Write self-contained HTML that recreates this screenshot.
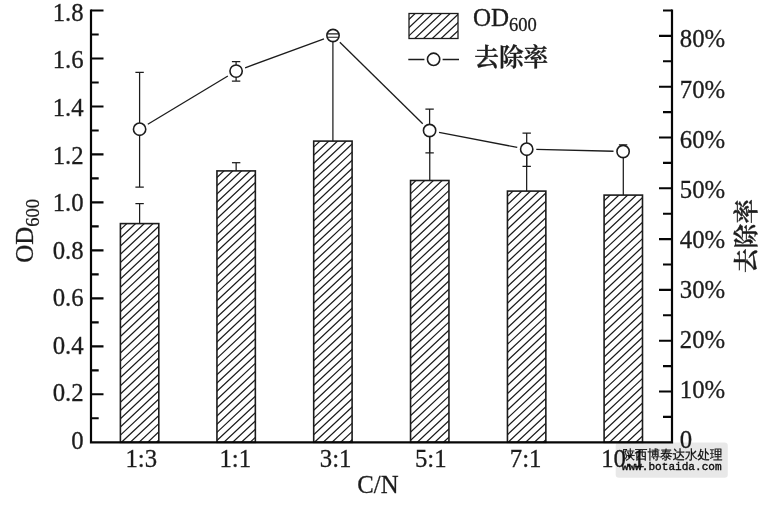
<!DOCTYPE html>
<html lang="zh-CN"><head><meta charset="utf-8"><title>C/N - OD600</title>
<style>
html,body{margin:0;padding:0;background:#fff;}
body{width:771px;height:507px;overflow:hidden;}
svg{display:block;will-change:transform;}
.t{font-family:"Liberation Serif","Noto Serif CJK SC",serif;fill:#1c1c1c;stroke:#1c1c1c;stroke-width:0.3px;}
.c{font-family:"Liberation Serif","Noto Serif CJK SC",serif;fill:#1c1c1c;font-weight:600;stroke:#1c1c1c;stroke-width:0.35px;}
</style></head><body>
<svg width="771" height="507" viewBox="0 0 771 507">
<rect x="0" y="0" width="771" height="507" fill="#ffffff"/>
<g>
<defs>
<clipPath id="cb0"><rect x="120.40" y="223.60" width="38.40" height="218.70"/></clipPath>
<clipPath id="cb1"><rect x="216.95" y="170.90" width="38.40" height="271.40"/></clipPath>
<clipPath id="cb2"><rect x="313.70" y="141.10" width="38.40" height="301.20"/></clipPath>
<clipPath id="cb3"><rect x="410.55" y="180.50" width="38.40" height="261.80"/></clipPath>
<clipPath id="cb4"><rect x="507.45" y="191.10" width="38.40" height="251.20"/></clipPath>
<clipPath id="cb5"><rect x="604.10" y="195.10" width="38.40" height="247.20"/></clipPath>
<clipPath id="clg"><rect x="409" y="13.5" width="49" height="25"/></clipPath>
</defs>
<path d="M118.40 223.28L160.80 183.42M118.40 231.50L160.80 191.64M118.40 239.72L160.80 199.86M118.40 247.94L160.80 208.08M118.40 256.16L160.80 216.30M118.40 264.38L160.80 224.52M118.40 272.60L160.80 232.74M118.40 280.82L160.80 240.96M118.40 289.04L160.80 249.18M118.40 297.26L160.80 257.40M118.40 305.48L160.80 265.62M118.40 313.70L160.80 273.84M118.40 321.92L160.80 282.06M118.40 330.14L160.80 290.28M118.40 338.36L160.80 298.50M118.40 346.58L160.80 306.72M118.40 354.80L160.80 314.94M118.40 363.02L160.80 323.16M118.40 371.24L160.80 331.38M118.40 379.46L160.80 339.60M118.40 387.68L160.80 347.82M118.40 395.90L160.80 356.04M118.40 404.12L160.80 364.26M118.40 412.34L160.80 372.48M118.40 420.56L160.80 380.70M118.40 428.78L160.80 388.92M118.40 437.00L160.80 397.14M118.40 445.22L160.80 405.36M118.40 453.44L160.80 413.58M118.40 461.66L160.80 421.80M118.40 469.88L160.80 430.02M118.40 478.10L160.80 438.24M118.40 486.32L160.80 446.46" stroke="#1c1c1c" stroke-width="1.25" fill="none" clip-path="url(#cb0)"/>
<rect x="120.40" y="223.60" width="38.40" height="218.70" fill="none" stroke="#1c1c1c" stroke-width="1.60"/>
<path d="M214.95 171.19L257.35 131.33M214.95 179.41L257.35 139.55M214.95 187.63L257.35 147.77M214.95 195.85L257.35 155.99M214.95 204.07L257.35 164.21M214.95 212.29L257.35 172.43M214.95 220.51L257.35 180.65M214.95 228.73L257.35 188.87M214.95 236.95L257.35 197.09M214.95 245.17L257.35 205.31M214.95 253.39L257.35 213.53M214.95 261.61L257.35 221.75M214.95 269.83L257.35 229.97M214.95 278.05L257.35 238.19M214.95 286.27L257.35 246.41M214.95 294.49L257.35 254.63M214.95 302.71L257.35 262.85M214.95 310.93L257.35 271.07M214.95 319.15L257.35 279.29M214.95 327.37L257.35 287.51M214.95 335.59L257.35 295.73M214.95 343.81L257.35 303.95M214.95 352.03L257.35 312.17M214.95 360.25L257.35 320.39M214.95 368.47L257.35 328.61M214.95 376.69L257.35 336.83M214.95 384.91L257.35 345.05M214.95 393.13L257.35 353.27M214.95 401.35L257.35 361.49M214.95 409.57L257.35 369.71M214.95 417.79L257.35 377.93M214.95 426.01L257.35 386.15M214.95 434.23L257.35 394.37M214.95 442.45L257.35 402.59M214.95 450.67L257.35 410.81M214.95 458.89L257.35 419.03M214.95 467.11L257.35 427.25M214.95 475.33L257.35 435.47M214.95 483.55L257.35 443.69" stroke="#1c1c1c" stroke-width="1.25" fill="none" clip-path="url(#cb1)"/>
<rect x="216.95" y="170.90" width="38.40" height="271.40" fill="none" stroke="#1c1c1c" stroke-width="1.60"/>
<path d="M311.70 140.75L354.10 100.90M311.70 148.97L354.10 109.12M311.70 157.19L354.10 117.34M311.70 165.41L354.10 125.56M311.70 173.63L354.10 133.78M311.70 181.85L354.10 142.00M311.70 190.07L354.10 150.22M311.70 198.29L354.10 158.44M311.70 206.51L354.10 166.66M311.70 214.73L354.10 174.88M311.70 222.95L354.10 183.10M311.70 231.17L354.10 191.32M311.70 239.39L354.10 199.54M311.70 247.61L354.10 207.76M311.70 255.83L354.10 215.98M311.70 264.05L354.10 224.20M311.70 272.27L354.10 232.42M311.70 280.49L354.10 240.64M311.70 288.71L354.10 248.86M311.70 296.93L354.10 257.08M311.70 305.15L354.10 265.30M311.70 313.37L354.10 273.52M311.70 321.59L354.10 281.74M311.70 329.81L354.10 289.96M311.70 338.03L354.10 298.18M311.70 346.25L354.10 306.40M311.70 354.47L354.10 314.62M311.70 362.69L354.10 322.84M311.70 370.91L354.10 331.06M311.70 379.13L354.10 339.28M311.70 387.35L354.10 347.50M311.70 395.57L354.10 355.72M311.70 403.79L354.10 363.94M311.70 412.01L354.10 372.16M311.70 420.23L354.10 380.38M311.70 428.45L354.10 388.60M311.70 436.67L354.10 396.82M311.70 444.89L354.10 405.04M311.70 453.11L354.10 413.26M311.70 461.33L354.10 421.48M311.70 469.55L354.10 429.70M311.70 477.77L354.10 437.92M311.70 485.99L354.10 446.14" stroke="#1c1c1c" stroke-width="1.25" fill="none" clip-path="url(#cb2)"/>
<rect x="313.70" y="141.10" width="38.40" height="301.20" fill="none" stroke="#1c1c1c" stroke-width="1.60"/>
<path d="M408.55 179.19L450.95 139.33M408.55 187.41L450.95 147.55M408.55 195.63L450.95 155.77M408.55 203.85L450.95 163.99M408.55 212.07L450.95 172.21M408.55 220.29L450.95 180.43M408.55 228.51L450.95 188.65M408.55 236.73L450.95 196.87M408.55 244.95L450.95 205.09M408.55 253.17L450.95 213.31M408.55 261.39L450.95 221.53M408.55 269.61L450.95 229.75M408.55 277.83L450.95 237.97M408.55 286.05L450.95 246.19M408.55 294.27L450.95 254.41M408.55 302.49L450.95 262.63M408.55 310.71L450.95 270.85M408.55 318.93L450.95 279.07M408.55 327.15L450.95 287.29M408.55 335.37L450.95 295.51M408.55 343.59L450.95 303.73M408.55 351.81L450.95 311.95M408.55 360.03L450.95 320.17M408.55 368.25L450.95 328.39M408.55 376.47L450.95 336.61M408.55 384.69L450.95 344.83M408.55 392.91L450.95 353.05M408.55 401.13L450.95 361.27M408.55 409.35L450.95 369.49M408.55 417.57L450.95 377.71M408.55 425.79L450.95 385.93M408.55 434.01L450.95 394.15M408.55 442.23L450.95 402.37M408.55 450.45L450.95 410.59M408.55 458.67L450.95 418.81M408.55 466.89L450.95 427.03M408.55 475.11L450.95 435.25M408.55 483.33L450.95 443.47" stroke="#1c1c1c" stroke-width="1.25" fill="none" clip-path="url(#cb3)"/>
<rect x="410.55" y="180.50" width="38.40" height="261.80" fill="none" stroke="#1c1c1c" stroke-width="1.60"/>
<path d="M505.45 189.98L547.85 150.12M505.45 198.20L547.85 158.34M505.45 206.42L547.85 166.56M505.45 214.64L547.85 174.78M505.45 222.86L547.85 183.00M505.45 231.08L547.85 191.22M505.45 239.30L547.85 199.44M505.45 247.52L547.85 207.66M505.45 255.74L547.85 215.88M505.45 263.96L547.85 224.10M505.45 272.18L547.85 232.32M505.45 280.40L547.85 240.54M505.45 288.62L547.85 248.76M505.45 296.84L547.85 256.98M505.45 305.06L547.85 265.20M505.45 313.28L547.85 273.42M505.45 321.50L547.85 281.64M505.45 329.72L547.85 289.86M505.45 337.94L547.85 298.08M505.45 346.16L547.85 306.30M505.45 354.38L547.85 314.52M505.45 362.60L547.85 322.74M505.45 370.82L547.85 330.96M505.45 379.04L547.85 339.18M505.45 387.26L547.85 347.40M505.45 395.48L547.85 355.62M505.45 403.70L547.85 363.84M505.45 411.92L547.85 372.06M505.45 420.14L547.85 380.28M505.45 428.36L547.85 388.50M505.45 436.58L547.85 396.72M505.45 444.80L547.85 404.94M505.45 453.02L547.85 413.16M505.45 461.24L547.85 421.38M505.45 469.46L547.85 429.60M505.45 477.68L547.85 437.82M505.45 485.90L547.85 446.04" stroke="#1c1c1c" stroke-width="1.25" fill="none" clip-path="url(#cb4)"/>
<rect x="507.45" y="191.10" width="38.40" height="251.20" fill="none" stroke="#1c1c1c" stroke-width="1.60"/>
<path d="M602.10 194.49L644.50 154.64M602.10 202.71L644.50 162.86M602.10 210.93L644.50 171.08M602.10 219.15L644.50 179.30M602.10 227.37L644.50 187.52M602.10 235.59L644.50 195.74M602.10 243.81L644.50 203.96M602.10 252.03L644.50 212.18M602.10 260.25L644.50 220.40M602.10 268.47L644.50 228.62M602.10 276.69L644.50 236.84M602.10 284.91L644.50 245.06M602.10 293.13L644.50 253.28M602.10 301.35L644.50 261.50M602.10 309.57L644.50 269.72M602.10 317.79L644.50 277.94M602.10 326.01L644.50 286.16M602.10 334.23L644.50 294.38M602.10 342.45L644.50 302.60M602.10 350.67L644.50 310.82M602.10 358.89L644.50 319.04M602.10 367.11L644.50 327.26M602.10 375.33L644.50 335.48M602.10 383.55L644.50 343.70M602.10 391.77L644.50 351.92M602.10 399.99L644.50 360.14M602.10 408.21L644.50 368.36M602.10 416.43L644.50 376.58M602.10 424.65L644.50 384.80M602.10 432.87L644.50 393.02M602.10 441.09L644.50 401.24M602.10 449.31L644.50 409.46M602.10 457.53L644.50 417.68M602.10 465.75L644.50 425.90M602.10 473.97L644.50 434.12M602.10 482.19L644.50 442.34" stroke="#1c1c1c" stroke-width="1.25" fill="none" clip-path="url(#cb5)"/>
<rect x="604.10" y="195.10" width="38.40" height="247.20" fill="none" stroke="#1c1c1c" stroke-width="1.60"/>
<line x1="139.60" y1="223.60" x2="139.60" y2="203.60" stroke="#1c1c1c" stroke-width="1.25"/>
<line x1="135.40" y1="203.60" x2="143.80" y2="203.60" stroke="#1c1c1c" stroke-width="1.25"/>
<line x1="236.15" y1="170.90" x2="236.15" y2="162.70" stroke="#1c1c1c" stroke-width="1.25"/>
<line x1="231.95" y1="162.70" x2="240.35" y2="162.70" stroke="#1c1c1c" stroke-width="1.25"/>
<line x1="332.90" y1="141.10" x2="332.90" y2="35.50" stroke="#1c1c1c" stroke-width="1.25"/>
<line x1="429.75" y1="180.50" x2="429.75" y2="130.50" stroke="#1c1c1c" stroke-width="1.25"/>
<line x1="526.65" y1="191.10" x2="526.65" y2="149.20" stroke="#1c1c1c" stroke-width="1.25"/>
<line x1="623.30" y1="195.10" x2="623.30" y2="151.50" stroke="#1c1c1c" stroke-width="1.25"/>
<line x1="147.82" y1="124.25" x2="227.88" y2="76.05" stroke="#1c1c1c" stroke-width="1.30"/>
<line x1="245.11" y1="67.79" x2="323.99" y2="38.81" stroke="#1c1c1c" stroke-width="1.30"/>
<line x1="339.84" y1="42.23" x2="422.76" y2="123.77" stroke="#1c1c1c" stroke-width="1.30"/>
<line x1="439.03" y1="132.32" x2="517.27" y2="147.38" stroke="#1c1c1c" stroke-width="1.30"/>
<line x1="536.30" y1="149.43" x2="613.50" y2="151.27" stroke="#1c1c1c" stroke-width="1.30"/>
<path d="M139.60 72.40V187.00M135.40 72.40H143.80M135.40 187.00H143.80" stroke="#1c1c1c" stroke-width="1.25" fill="none"/>
<path d="M236.10 61.50V81.10M231.90 61.50H240.30M231.90 81.10H240.30" stroke="#1c1c1c" stroke-width="1.25" fill="none"/>
<path d="M333.00 33.80V37.20M328.80 33.80H337.20M328.80 37.20H337.20" stroke="#1c1c1c" stroke-width="1.25" fill="none"/>
<path d="M429.60 109.00V152.80M425.40 109.00H433.80M425.40 152.80H433.80" stroke="#1c1c1c" stroke-width="1.25" fill="none"/>
<path d="M526.70 133.00V166.40M522.50 133.00H530.90M522.50 166.40H530.90" stroke="#1c1c1c" stroke-width="1.25" fill="none"/>
<path d="M623.10 144.90V151.50M618.90 144.90H627.30M618.90 151.50H627.30" stroke="#1c1c1c" stroke-width="1.25" fill="none"/>
<circle cx="139.60" cy="129.20" r="6.15" fill="#ffffff" stroke="#1c1c1c" stroke-width="1.60"/>
<circle cx="236.10" cy="71.10" r="6.15" fill="#ffffff" stroke="#1c1c1c" stroke-width="1.60"/>
<circle cx="333.00" cy="35.50" r="6.15" fill="#ffffff" stroke="#1c1c1c" stroke-width="1.60"/>
<circle cx="429.60" cy="130.50" r="6.15" fill="#ffffff" stroke="#1c1c1c" stroke-width="1.60"/>
<circle cx="526.70" cy="149.20" r="6.15" fill="#ffffff" stroke="#1c1c1c" stroke-width="1.60"/>
<circle cx="623.10" cy="151.50" r="6.15" fill="#ffffff" stroke="#1c1c1c" stroke-width="1.60"/>
<path d="M327.60 33.80H338.40M327.60 37.20H338.40" stroke="#1c1c1c" stroke-width="1.15" fill="none"/>
<path d="M91.00 9.40V442.30H672.00V9.40" fill="none" stroke="#060606" stroke-width="2.20" stroke-linejoin="miter"/>
<path d="M91.00 418.31H98.70M91.00 394.32H103.50M91.00 370.33H98.70M91.00 346.34H103.50M91.00 322.35H98.70M91.00 298.36H103.50M91.00 274.37H98.70M91.00 250.38H103.50M91.00 226.39H98.70M91.00 202.40H103.50M91.00 178.41H98.70M91.00 154.42H103.50M91.00 130.43H98.70M91.00 106.44H103.50M91.00 82.45H98.70M91.00 58.46H103.50M91.00 34.47H98.70M91.00 10.48H103.50M672.00 416.90H663.00M672.00 391.50H659.00M672.00 366.10H663.00M672.00 340.70H659.00M672.00 315.30H663.00M672.00 289.90H659.00M672.00 264.50H663.00M672.00 239.10H659.00M672.00 213.70H663.00M672.00 188.30H659.00M672.00 162.90H663.00M672.00 137.50H659.00M672.00 112.10H663.00M672.00 86.70H659.00M672.00 61.30H663.00M672.00 35.90H659.00M672.00 10.50H663.00" fill="none" stroke="#060606" stroke-width="2.1"/>
<text class="t" transform="translate(83.60 448.90) scale(0.975 1)" font-size="25.4" text-anchor="end">0</text>
<text class="t" transform="translate(83.60 401.34) scale(0.975 1)" font-size="25.4" text-anchor="end">0.2</text>
<text class="t" transform="translate(83.60 353.78) scale(0.975 1)" font-size="25.4" text-anchor="end">0.4</text>
<text class="t" transform="translate(83.60 306.22) scale(0.975 1)" font-size="25.4" text-anchor="end">0.6</text>
<text class="t" transform="translate(83.60 258.66) scale(0.975 1)" font-size="25.4" text-anchor="end">0.8</text>
<text class="t" transform="translate(83.60 211.10) scale(0.975 1)" font-size="25.4" text-anchor="end">1.0</text>
<text class="t" transform="translate(83.60 163.54) scale(0.975 1)" font-size="25.4" text-anchor="end">1.2</text>
<text class="t" transform="translate(83.60 115.98) scale(0.975 1)" font-size="25.4" text-anchor="end">1.4</text>
<text class="t" transform="translate(83.60 68.42) scale(0.975 1)" font-size="25.4" text-anchor="end">1.6</text>
<text class="t" transform="translate(83.60 20.86) scale(0.975 1)" font-size="25.4" text-anchor="end">1.8</text>
<text class="t" transform="translate(679.80 448.20) scale(0.975 1)" font-size="25.4" text-anchor="start">0</text>
<text class="t" transform="translate(679.80 398.10) scale(0.975 1)" font-size="25.4" text-anchor="start">10%</text>
<text class="t" transform="translate(679.80 348.00) scale(0.975 1)" font-size="25.4" text-anchor="start">20%</text>
<text class="t" transform="translate(679.80 297.90) scale(0.975 1)" font-size="25.4" text-anchor="start">30%</text>
<text class="t" transform="translate(679.80 247.80) scale(0.975 1)" font-size="25.4" text-anchor="start">40%</text>
<text class="t" transform="translate(679.80 197.70) scale(0.975 1)" font-size="25.4" text-anchor="start">50%</text>
<text class="t" transform="translate(679.80 147.60) scale(0.975 1)" font-size="25.4" text-anchor="start">60%</text>
<text class="t" transform="translate(679.80 97.50) scale(0.975 1)" font-size="25.4" text-anchor="start">70%</text>
<text class="t" transform="translate(679.80 47.40) scale(0.975 1)" font-size="25.4" text-anchor="start">80%</text>
<text class="t" transform="translate(141.30 467.20) scale(0.975 1)" font-size="25.4" text-anchor="middle">1:3</text>
<text class="t" transform="translate(235.30 467.20) scale(0.975 1)" font-size="25.4" text-anchor="middle">1:1</text>
<text class="t" transform="translate(335.60 467.20) scale(0.975 1)" font-size="25.4" text-anchor="middle">3:1</text>
<text class="t" transform="translate(430.80 467.20) scale(0.975 1)" font-size="25.4" text-anchor="middle">5:1</text>
<text class="t" transform="translate(525.60 467.20) scale(0.975 1)" font-size="25.4" text-anchor="middle">7:1</text>
<text class="t" transform="translate(623.20 467.20) scale(0.975 1)" font-size="25.4" text-anchor="middle">10:1</text>
<text class="t" transform="translate(378.00 492.70) scale(0.975 1)" font-size="25.4" text-anchor="middle">C/N</text>
<text class="t" transform="translate(32.7 262.8) rotate(-90)" font-size="25">OD<tspan font-size="18.5" dy="6.4">600</tspan></text>
<text class="c" transform="translate(755.3 273) rotate(-90)" font-size="24.6">去除率</text>
<path d="M407.00 12.96L460.00 -36.86M407.00 21.18L460.00 -28.64M407.00 29.40L460.00 -20.42M407.00 37.62L460.00 -12.20M407.00 45.84L460.00 -3.98M407.00 54.06L460.00 4.24M407.00 62.28L460.00 12.46M407.00 70.50L460.00 20.68M407.00 78.72L460.00 28.90M407.00 86.94L460.00 37.12" stroke="#1c1c1c" stroke-width="1.25" fill="none" clip-path="url(#clg)"/>
<rect x="409" y="13.5" width="49" height="25" fill="none" stroke="#1c1c1c" stroke-width="1.3"/>
<text class="t" x="473" y="26" font-size="25">OD<tspan font-size="18.5" dy="4.8">600</tspan></text>
<path d="M408.3 59.5H424.4M442.6 59.5H459" stroke="#1c1c1c" stroke-width="1.3" fill="none"/>
<circle cx="433.6" cy="59.3" r="6.15" fill="#fff" stroke="#1c1c1c" stroke-width="1.6"/>
<text class="c" x="474.3" y="66.3" font-size="24.6">去除率</text>
<rect x="615.7" y="442.6" width="112.1" height="35.2" rx="3.2" ry="3.2" fill="#000000" fill-opacity="0.092"/>
<text transform="translate(622.4 458.9) scale(0.975 1)" font-size="12.85" fill="#0a0a0a" stroke="#0a0a0a" stroke-width="0.25" font-family="&quot;Liberation Sans&quot;,&quot;WenQuanYi Zen Hei&quot;,&quot;Noto Sans CJK SC&quot;,sans-serif">陕西博泰达水处理</text>
<text x="621.8" y="470.1" font-size="11.1" fill="#0a0a0a" stroke="#0a0a0a" stroke-width="0.35" font-family="&quot;Liberation Mono&quot;,monospace">www.botaida.com</text>
</g>
</svg>
</body></html>
